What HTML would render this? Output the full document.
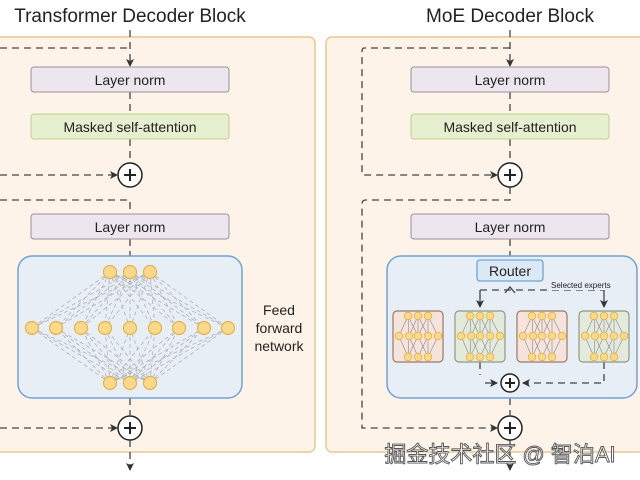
<!DOCTYPE html>
<html><head><meta charset="utf-8"><style>
html,body{margin:0;padding:0;background:#fff;}
svg{display:block;font-family:"Liberation Sans","Noto Sans CJK SC",sans-serif;}
</style></head><body>
<svg width="640" height="480" viewBox="0 0 640 480" xmlns="http://www.w3.org/2000/svg">
<defs>
<marker id="ar" markerWidth="8" markerHeight="8" refX="7" refY="4" orient="auto" markerUnits="userSpaceOnUse"><path d="M0,0 L8,4 L0,8 L2,4 z" fill="#333"/></marker>
</defs>
<text x="130" y="22" font-size="19" text-anchor="middle" fill="#222">Transformer Decoder Block</text>
<text x="510" y="22" font-size="19" text-anchor="middle" fill="#222">MoE Decoder Block</text>
<rect x="-10" y="37" width="325" height="415" rx="6" fill="#fdf3e8" stroke="#e8c98c" stroke-width="1.5"/>
<rect x="326" y="37" width="330" height="415" rx="6" fill="#fdf3e8" stroke="#e8c98c" stroke-width="1.5"/>

<g stroke="#444" stroke-width="1.3" fill="none" stroke-dasharray="7 5">
<path d="M130 30 V66" marker-end="url(#ar)"/>
<path d="M0 48 H130"/>
<path d="M130 92 V114"/>
<path d="M130 139 V162"/>
<path d="M0 175 H117" marker-end="url(#ar)"/>
<path d="M0 200 H130 V214"/>
<path d="M130 239 V256"/>
<path d="M130 398 V415"/>
<path d="M0 428 H117" marker-end="url(#ar)"/>
<path d="M130 440 V470" marker-end="url(#ar)"/>
<path d="M510 30 V66" marker-end="url(#ar)"/>
<path d="M510 48 H364 Q362 48 362 52 V175 H497" marker-end="url(#ar)"/>
<path d="M510 92 V114"/>
<path d="M510 139 V162"/>
<path d="M510 187 V200 H366 Q362 200 362 204 V428 H497" marker-end="url(#ar)"/>
<path d="M510 239 V256"/>
<path d="M510 398 V415"/>
<path d="M510 440 V470" marker-end="url(#ar)"/>
</g>

<g font-size="14" text-anchor="middle" fill="#222">
<rect x="31" y="67" width="198" height="25" rx="3" fill="#eee6ee" stroke="#9a909a"/>
<text x="130" y="85">Layer norm</text>
<rect x="31" y="114" width="198" height="25" rx="3" fill="#e6efcf" stroke="#bdd08e"/>
<text x="130" y="132">Masked self-attention</text>
<rect x="31" y="214" width="198" height="25" rx="3" fill="#eee6ee" stroke="#9a909a"/>
<text x="130" y="232">Layer norm</text>
<rect x="411" y="67" width="198" height="25" rx="3" fill="#eee6ee" stroke="#9a909a"/>
<text x="510" y="85">Layer norm</text>
<rect x="411" y="114" width="198" height="25" rx="3" fill="#e6efcf" stroke="#bdd08e"/>
<text x="510" y="132">Masked self-attention</text>
<rect x="411" y="214" width="198" height="25" rx="3" fill="#eee6ee" stroke="#9a909a"/>
<text x="510" y="232">Layer norm</text>
</g>
<text font-size="14" text-anchor="middle" fill="#222"><tspan x="279" y="315">Feed</tspan><tspan x="279" y="333">forward</tspan><tspan x="279" y="351">network</tspan></text>

<g stroke="#222" stroke-width="1.5" fill="#fff">
<circle cx="130" cy="175" r="12"/><circle cx="130" cy="428" r="12"/>
<circle cx="510" cy="175" r="12"/><circle cx="510" cy="428" r="12"/>
</g>
<g stroke="#222" stroke-width="2">
<path d="M124 175 H136 M130 169 V181"/><path d="M124 428 H136 M130 422 V434"/>
<path d="M504 175 H516 M510 169 V181"/><path d="M504 428 H516 M510 422 V434"/>
</g>

<rect x="18" y="256" width="224" height="142" rx="14" fill="#e8eef5" stroke="#6ea3d6" stroke-width="1.5"/>
<g stroke="#999" stroke-width="0.8" stroke-dasharray="4 3" fill="none" opacity="0.7">
<path d="M110 272L32 328M110 272L56 328M110 272L81 328M110 272L105 328M110 272L130 328M110 272L155 328M110 272L179 328M110 272L204 328M110 272L228 328"/>
<path d="M130 272L32 328M130 272L56 328M130 272L81 328M130 272L105 328M130 272L130 328M130 272L155 328M130 272L179 328M130 272L204 328M130 272L228 328"/>
<path d="M150 272L32 328M150 272L56 328M150 272L81 328M150 272L105 328M150 272L130 328M150 272L155 328M150 272L179 328M150 272L204 328M150 272L228 328"/>
<path d="M110 383L32 328M110 383L56 328M110 383L81 328M110 383L105 328M110 383L130 328M110 383L155 328M110 383L179 328M110 383L204 328M110 383L228 328"/>
<path d="M130 383L32 328M130 383L56 328M130 383L81 328M130 383L105 328M130 383L130 328M130 383L155 328M130 383L179 328M130 383L204 328M130 383L228 328"/>
<path d="M150 383L32 328M150 383L56 328M150 383L81 328M150 383L105 328M150 383L130 328M150 383L155 328M150 383L179 328M150 383L204 328M150 383L228 328"/>
</g>
<g fill="#fbd98a" stroke="#e3b24a" stroke-width="1.2">
<circle cx="110" cy="272" r="6.5"/><circle cx="130" cy="272" r="6.5"/><circle cx="150" cy="272" r="6.5"/>
<circle cx="32" cy="328" r="6.5"/><circle cx="56" cy="328" r="6.5"/><circle cx="81" cy="328" r="6.5"/><circle cx="105" cy="328" r="6.5"/><circle cx="130" cy="328" r="6.5"/><circle cx="155" cy="328" r="6.5"/><circle cx="179" cy="328" r="6.5"/><circle cx="204" cy="328" r="6.5"/><circle cx="228" cy="328" r="6.5"/>
<circle cx="110" cy="383" r="6.5"/><circle cx="130" cy="383" r="6.5"/><circle cx="150" cy="383" r="6.5"/>
</g>

<rect x="387" y="256" width="250" height="142" rx="14" fill="#e8eef5" stroke="#6ea3d6" stroke-width="1.5"/>
<g stroke="#444" stroke-width="1.3" fill="none" stroke-dasharray="7 5">
<path d="M480 290 H604"/>
<path d="M480 362 V375"/>
<path d="M604 362 V383 H523" marker-end="url(#ar)"/>
</g>
<g stroke="#444" stroke-width="1.3" fill="none">
<path d="M480 290 V307" marker-end="url(#ar)"/>
<path d="M604 290 V307" marker-end="url(#ar)"/>
<path d="M485 383 H497" marker-end="url(#ar)"/>
<path d="M505 293 L510 287 L515 293"/>
</g>
<rect x="477" y="260" width="66" height="21" rx="3" fill="#dbe8f5" stroke="#6ea3d6" stroke-width="1.3"/>
<text x="510" y="276" font-size="14" text-anchor="middle" fill="#222">Router</text>
<rect x="549" y="280" width="72" height="10" fill="#e8eef5"/>
<text x="551" y="288" font-size="8" fill="#222">Selected experts</text>

<g id="e1">
<rect x="393" y="311" width="50" height="51" rx="4" fill="#f6e4dc" stroke="#9a7a62" stroke-width="1.2"/>
<g stroke="#888" stroke-width="0.6" fill="none">
<path d="M408 316L399 336M408 316L409 336M408 316L418 336M418 316L409 336M418 316L428 336M418 316L418 336M428 316L428 336M428 316L438 336M428 316L418 336"/>
<path d="M408 357L399 336M408 357L409 336M408 357L418 336M418 357L409 336M418 357L428 336M428 357L428 336M428 357L438 336M428 357L418 336"/>
</g>
<g fill="#fbd98a" stroke="#e3b24a" stroke-width="0.8">
<circle cx="408" cy="316" r="3.8"/><circle cx="418" cy="316" r="3.8"/><circle cx="428" cy="316" r="3.8"/>
<circle cx="399" cy="336" r="3.8"/><circle cx="409" cy="336" r="3.8"/><circle cx="418" cy="336" r="3.8"/><circle cx="428" cy="336" r="3.8"/><circle cx="438" cy="336" r="3.8"/>
<circle cx="408" cy="357" r="3.8"/><circle cx="418" cy="357" r="3.8"/><circle cx="428" cy="357" r="3.8"/>
</g>
</g>
<g id="e2" transform="translate(62,0)">
<rect x="393" y="311" width="50" height="51" rx="4" fill="#e3eadb" stroke="#8f9a80" stroke-width="1.2"/>
<g stroke="#888" stroke-width="0.6" fill="none">
<path d="M408 316L399 336M408 316L409 336M408 316L418 336M418 316L409 336M418 316L428 336M418 316L418 336M428 316L428 336M428 316L438 336M428 316L418 336"/>
<path d="M408 357L399 336M408 357L409 336M408 357L418 336M418 357L409 336M418 357L428 336M428 357L428 336M428 357L438 336M428 357L418 336"/>
</g>
<g fill="#fbd98a" stroke="#e3b24a" stroke-width="0.8">
<circle cx="408" cy="316" r="3.8"/><circle cx="418" cy="316" r="3.8"/><circle cx="428" cy="316" r="3.8"/>
<circle cx="399" cy="336" r="3.8"/><circle cx="409" cy="336" r="3.8"/><circle cx="418" cy="336" r="3.8"/><circle cx="428" cy="336" r="3.8"/><circle cx="438" cy="336" r="3.8"/>
<circle cx="408" cy="357" r="3.8"/><circle cx="418" cy="357" r="3.8"/><circle cx="428" cy="357" r="3.8"/>
</g>
</g>
<use href="#e1" transform="translate(124,0)"/>
<use href="#e2" transform="translate(124,0)"/>
<circle cx="510" cy="383" r="9" fill="#fff" stroke="#222" stroke-width="1.5"/>
<path d="M505 383 H515 M510 378 V388" stroke="#222" stroke-width="2"/>

<text x="500" y="462" font-size="22" text-anchor="middle" fill="#fff" stroke="#555" stroke-width="0.9">掘金技术社区 @ 智泊AI</text>
</svg>
</body></html>
